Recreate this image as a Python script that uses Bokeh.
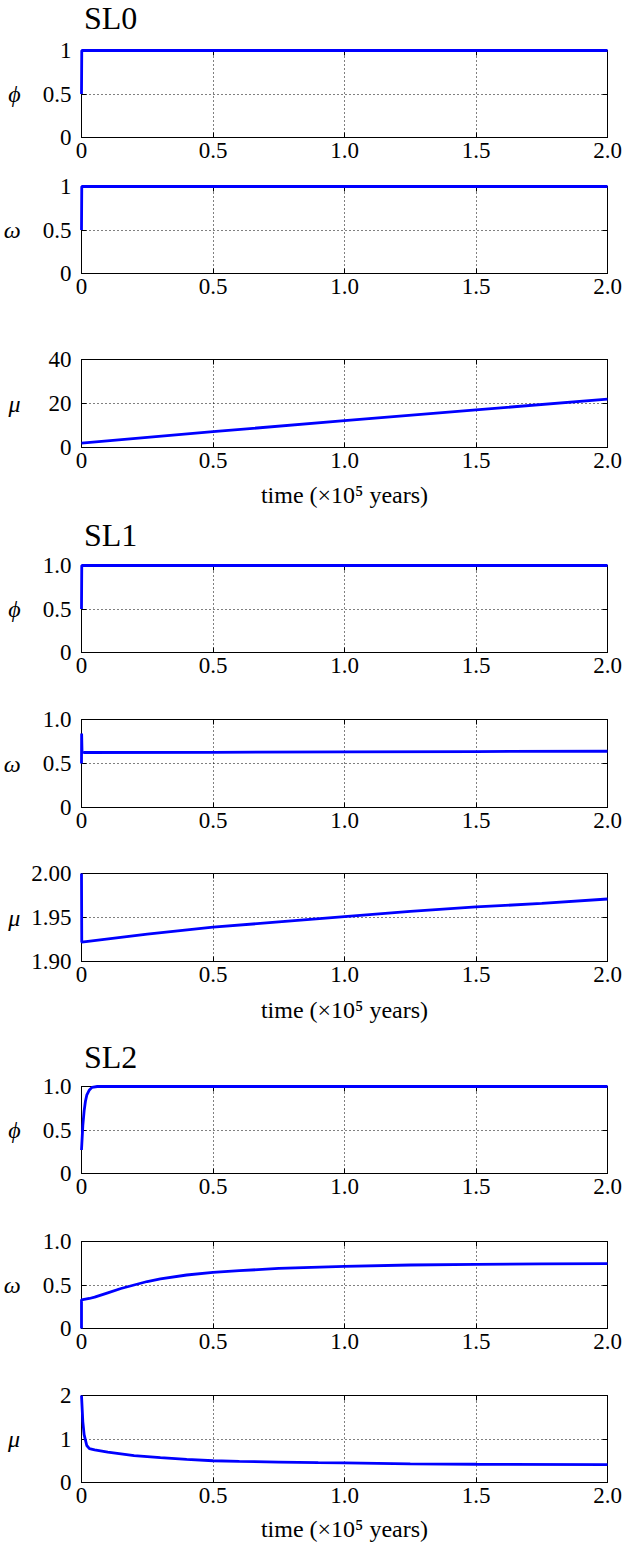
from bokeh.plotting import figure
from bokeh.layouts import column
from bokeh.models import FixedTicker, LinearAxis, Range1d, Div
from bokeh.embed import file_html
from bokeh.resources import INLINE

# ---------------- data (time in units of 1e5 years) ----------------
x_ticks = [0.0, 0.5, 1.0, 1.5, 2.0]
x_tick_labels = ["0", "0.5", "1.0", "1.5", "2.0"]
x_label = "time (×10⁵ years)"
titles = ["SL0", "SL1", "SL2"]

# SL0
sl0_t_phi = [0.0, 0.001, 1.0, 2.0]
sl0_phi = [0.5, 1.0, 1.0, 1.0]
sl0_t_omega = [0.0, 0.001, 1.0, 2.0]
sl0_omega = [0.5, 1.0, 1.0, 1.0]
sl0_t_mu = [0.0, 0.5, 1.0, 1.5, 2.0]
sl0_mu = [2.0, 7.2, 12.2, 17.1, 22.0]

# SL1
sl1_t_phi = [0.0, 0.001, 1.0, 2.0]
sl1_phi = [0.5, 1.0, 1.0, 1.0]
sl1_t_omega = [0.0, 0.0005, 0.002, 0.01, 0.5, 1.0, 1.5, 2.0]
sl1_omega = [0.5, 0.84, 0.63, 0.625, 0.627, 0.632, 0.636, 0.639]
sl1_t_mu = [0.0, 0.001, 0.25, 0.5, 0.75, 1.0, 1.25, 1.5, 1.75, 2.0]
sl1_mu = [2.0, 1.922, 1.931, 1.939, 1.945, 1.951, 1.957, 1.962, 1.966, 1.971]

# SL2
sl2_t_phi = [0.0, 0.005, 0.01, 0.015, 0.02, 0.03, 0.04, 0.06, 1.0, 2.0]
sl2_phi = [0.27, 0.55, 0.72, 0.83, 0.90, 0.96, 0.99, 1.0, 1.0, 1.0]
sl2_t_omega = [0.0, 0.0, 0.02, 0.03, 0.05, 0.1, 0.15, 0.2, 0.25, 0.3, 0.4,
               0.5, 0.6, 0.75, 1.0, 1.25, 1.5, 1.75, 2.0]
sl2_omega = [0.0, 0.33, 0.34, 0.345, 0.36, 0.41, 0.46, 0.50, 0.54, 0.57, 0.615,
             0.645, 0.665, 0.69, 0.715, 0.73, 0.738, 0.743, 0.746]
sl2_t_mu = [0.0, 0.005, 0.01, 0.02, 0.03, 0.05, 0.1, 0.15, 0.2, 0.3, 0.4, 0.5,
            0.6, 0.75, 0.9, 1.0, 1.25, 1.5, 2.0]
sl2_mu = [2.0, 1.4, 1.1, 0.85, 0.78, 0.75, 0.70, 0.66, 0.62, 0.57, 0.53, 0.50,
          0.485, 0.47, 0.455, 0.45, 0.43, 0.42, 0.41]

# y-axis tick sets
ticks_01 = [0.0, 0.5, 1.0]
labels_01_int = ["0", "0.5", "1"]
labels_01 = ["0", "0.5", "1.0"]
ticks_mu0 = [0.0, 20.0, 40.0]
labels_mu0 = ["0", "20", "40"]
ticks_mu1 = [1.90, 1.95, 2.00]
labels_mu1 = ["1.90", "1.95", "2.00"]
ticks_mu2 = [0.0, 1.0, 2.0]
labels_mu2 = ["0", "1", "2"]

FONT = "Liberation Serif"
W = 622
BORDER_L = 74
BORDER_R = 15


def title_div(text, height, margin_top):
    html = ('<div style="height:%dpx; padding-top:%dpx; padding-left:84px; '
            'box-sizing:border-box; overflow:visible; '
            'font-family:\'Liberation Serif\', serif; font-size:32px; '
            'line-height:20px; color:black; white-space:nowrap;">%s</div>'
            % (height, margin_top, text))
    return Div(text=html, width=W, height=height, margin=(0, 0, 0, 0),
               styles={"overflow": "visible"})


def panel(t, y, yticks, ylabels, ysym, height, top, bottom,
          xlabel=None, ystand=19, xstand=12):
    p = figure(width=W, height=height, output_backend="svg",
               toolbar_location=None, x_range=Range1d(x_ticks[0], x_ticks[-1]),
               y_range=Range1d(yticks[0], yticks[-1]),
               min_border_left=BORDER_L, min_border_right=BORDER_R,
               min_border_top=top, min_border_bottom=bottom)
    p.background_fill_color = "white"
    p.border_fill_color = "white"
    p.outline_line_color = "black"
    p.outline_line_width = 1
    p.line(t, y, line_color="#0000ff", line_width=2.8, level="overlay")

    xt = FixedTicker(ticks=x_ticks)
    yt = FixedTicker(ticks=yticks)

    xa = p.xaxis[0]
    xa.ticker = xt
    xa.major_label_overrides = {float(k): v for k, v in zip(x_ticks, x_tick_labels)}
    ya = p.yaxis[0]
    ya.ticker = yt
    ya.major_label_overrides = {float(k): v for k, v in zip(yticks, ylabels)}
    ya.axis_label = ysym
    ya.axis_label_orientation = "horizontal"
    ya.axis_label_text_font_style = "italic"
    ya.axis_label_text_font_size = "24px"
    ya.axis_label_standoff = ystand
    if xlabel:
        xa.axis_label = xlabel
        xa.axis_label_standoff = xstand
        xa.axis_label_text_font_style = "normal"
        xa.axis_label_text_font_size = "24px"

    for ax in (xa, ya):
        ax.major_label_text_font = FONT
        ax.major_label_text_font_size = "23px"
        ax.major_label_text_color = "black"
        ax.axis_label_text_font = FONT
        ax.axis_label_text_color = "black"
        ax.major_tick_in = 5
        ax.major_tick_out = 0
        ax.minor_tick_line_color = None
        ax.major_tick_line_color = "black"
        ax.axis_line_color = "black"
    xa.major_label_standoff = 5
    ya.major_label_standoff = 10

    # mirrored inward ticks on top and right (no labels drawn)
    top_ax = LinearAxis(ticker=xt, major_tick_in=5, major_tick_out=0,
                        major_label_text_font_size="1px", major_label_text_color=None,
                        major_label_standoff=0,
                        minor_tick_line_color=None, axis_line_color="black")
    right_ax = LinearAxis(ticker=yt, major_tick_in=5, major_tick_out=0,
                          major_label_text_font_size="1px", major_label_text_color=None,
                          major_label_standoff=0,
                          minor_tick_line_color=None, axis_line_color="black")
    p.add_layout(top_ax, "above")
    p.add_layout(right_ax, "right")

    p.xgrid.ticker = FixedTicker(ticks=x_ticks[1:-1])
    p.ygrid.ticker = FixedTicker(ticks=yticks[1:-1])
    for g in (p.xgrid, p.ygrid):
        g.grid_line_color = "black"
        g.grid_line_dash = "1 3"
        g.grid_line_width = 1
        g.grid_line_alpha = 1.0
    return p


items = [
    title_div(titles[0], 36, 8),
    panel(sl0_t_phi, sl0_phi, ticks_01, labels_01_int, "ϕ", 135, 14, 34, ystand=19),
    panel(sl0_t_omega, sl0_omega, ticks_01, labels_01_int, "ω", 139, 15, 37, ystand=19),
    panel(sl0_t_mu, sl0_mu, ticks_mu0, labels_mu0, "μ", 210, 49, 73, xlabel=x_label,
          ystand=25, xstand=11),
    title_div(titles[1], 28, 5),
    panel(sl1_t_phi, sl1_phi, ticks_01, labels_01, "ϕ", 138, 17, 34, ystand=19),
    panel(sl1_t_omega, sl1_omega, ticks_01, labels_01, "ω", 155, 33, 34, ystand=19),
    panel(sl1_t_mu, sl1_mu, ticks_mu1, labels_mu1, "μ", 199, 32, 79, xlabel=x_label,
          ystand=8, xstand=12),
    title_div(titles[2], 32, 7),
    panel(sl2_t_phi, sl2_phi, ticks_01, labels_01, "ϕ", 135, 14, 34, ystand=19),
    panel(sl2_t_omega, sl2_omega, ticks_01, labels_01, "ω", 155, 34, 34, ystand=19),
    panel(sl2_t_mu, sl2_mu, ticks_mu2, labels_mu2, "μ", 182, 33, 62, xlabel=x_label,
          ystand=37, xstand=10),
]

layout = column(*items, spacing=0)
open("out.html", "w").write(file_html(layout, INLINE))
